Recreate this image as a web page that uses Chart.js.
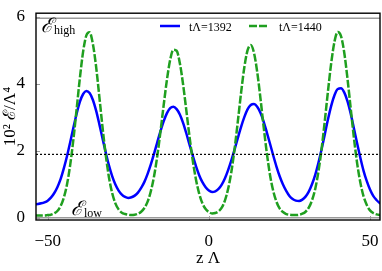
<!DOCTYPE html>
<html>
<head>
<meta charset="utf-8">
<script src="https://cdn.jsdelivr.net/npm/chart.js@4.4.1/dist/chart.umd.min.js"></script>
<style>
  html, body { margin: 0; padding: 0; background: #fff; }
  canvas { display: block; }
</style>
</head>
<body>
<canvas id="myChart" width="382" height="271"></canvas>
<script>
// z positions (in units of 1/Lambda)
const zGrid = [-54,-53,-52,-51,-50,-49,-48,-47,-46,-45,-44,-43,-42,-41,-40,-39,-38,-37,-36,-35,
  -34,-33,-32,-31,-30,-29,-28,-27,-26,-25,-24,-23,-22,-21,-20,-19,-18,-17,-16,-15,
  -14,-13,-12,-11,-10,-9,-8,-7,-6,-5,-4,-3,-2,-1,0,1,2,3,4,5,
  6,7,8,9,10,11,12,13,14,15,16,17,18,19,20,21,22,23,24,25,
  26,27,28,29,30,31,32,33,34,35,36,37,38,39,40,41,42,43,44,45,
  46,47,48,49,50,51,52,53,54]

// 10^2 E / Lambda^4 at t Lambda = 1392
const energy1392 = [0.40,0.41,0.43,0.46,0.51,0.60,0.73,0.91,1.15,1.47,1.84,2.26,2.70,3.11,3.46,3.69,3.78,3.72,3.52,3.20,
  2.80,2.37,1.95,1.56,1.24,0.99,0.81,0.69,0.62,0.59,0.61,0.66,0.75,0.89,1.07,1.31,1.59,1.91,2.25,2.58,
  2.88,3.12,3.27,3.31,3.24,3.08,2.83,2.52,2.18,1.85,1.54,1.27,1.06,0.91,0.81,0.77,0.79,0.86,0.99,1.18,
  1.43,1.72,2.04,2.38,2.71,3.00,3.23,3.36,3.39,3.31,3.13,2.87,2.54,2.20,1.85,1.52,1.23,0.99,0.80,0.65,
  0.56,0.51,0.50,0.54,0.63,0.78,1.00,1.28,1.64,2.05,2.50,2.95,3.35,3.66,3.84,3.86,3.74,3.48,3.11,2.67,
  2.22,1.79,1.40,1.09,0.84,0.65,0.53,0.44,0.39]

// 10^2 E / Lambda^4 at t Lambda = 1440
const energy1440 = [0.07,0.07,0.07,0.07,0.08,0.09,0.13,0.20,0.35,0.60,1.00,1.59,2.36,3.26,4.18,4.96,5.44,5.53,5.19,4.52,
  3.63,2.71,1.88,1.21,0.74,0.43,0.25,0.15,0.11,0.09,0.08,0.09,0.12,0.18,0.29,0.48,0.79,1.24,1.84,2.58,
  3.37,4.12,4.71,5.01,4.98,4.61,3.98,3.21,2.42,1.71,1.14,0.72,0.43,0.26,0.17,0.13,0.14,0.19,0.30,0.52,
  0.87,1.38,2.07,2.88,3.73,4.48,4.99,5.15,4.92,4.35,3.57,2.71,1.92,1.26,0.79,0.47,0.27,0.17,0.11,0.09,
  0.08,0.08,0.09,0.12,0.18,0.30,0.52,0.86,1.38,2.07,2.91,3.81,4.64,5.26,5.54,5.42,4.93,4.16,3.27,2.39,
  1.63,1.05,0.64,0.38,0.22,0.14,0.10,0.08,0.07]

// horizontal reference levels
const levelHigh = 5.95
const levelLow = 0
const levelMid = 1.89
const lineEnds = [-53.63, 53.1]

const xTicks = [-50, 0, 50]
const yTicks = [0, 2, 4, 6]
const seriesLabels = ['t\u039B=1392', 't\u039B=1440']

const serif = "'Liberation Serif', 'DejaVu Serif', serif"

function pairs(xs, ys) {
    return xs.map((x, i) => ({ x: x, y: ys[i] }))
}
function level(v) {
    return lineEnds.map(x => ({ x: x, y: v }))
}

// script E with a subscript right after it
function levelLabel(ctx, x, y, sub) {
    ctx.font = 'italic 20px ' + serif
    ctx.fillText('\u2130', x, y)
    const w = ctx.measureText('\u2130').width
    ctx.font = '12px ' + serif
    ctx.fillText(sub, x + w + 1, y + 2)
}

// frame, inward ticks, legend and level labels
const decorations = {
    id: 'decorations',
    afterDraw(chart) {
        const ctx = chart.ctx
        const a = chart.chartArea
        const xs = chart.scales.x, ys = chart.scales.y
        ctx.save()

        // tick marks pointing inwards
        ctx.strokeStyle = '#999'
        ctx.lineWidth = 1
        xTicks.forEach(v => {
            const px = Math.round(xs.getPixelForValue(v)) + 0.5
            ctx.beginPath(); ctx.moveTo(px, a.bottom); ctx.lineTo(px, a.bottom - 4); ctx.stroke()
        })
        yTicks.forEach(v => {
            const py = Math.round(ys.getPixelForValue(v)) + 0.5
            ctx.beginPath(); ctx.moveTo(a.left, py); ctx.lineTo(a.left + 4, py); ctx.stroke()
        })

        // frame
        ctx.strokeStyle = '#000'
        ctx.lineWidth = 1.4
        ctx.strokeRect(a.left, a.top, a.right - a.left, a.bottom - a.top)

        // legend
        ctx.lineWidth = 2.5
        ctx.strokeStyle = '#0000ff'
        ctx.beginPath(); ctx.moveTo(160, 26); ctx.lineTo(180, 26); ctx.stroke()
        ctx.strokeStyle = '#1f9f1f'
        ctx.setLineDash([8, 2])
        ctx.beginPath(); ctx.moveTo(249, 26); ctx.lineTo(268, 26); ctx.stroke()
        ctx.setLineDash([])
        ctx.fillStyle = '#000'
        ctx.font = '12px ' + serif
        ctx.textBaseline = 'alphabetic'
        ctx.textAlign = 'left'
        ctx.fillText(seriesLabels[0], 189, 31)
        ctx.fillText(seriesLabels[1], 279, 31)

        // level labels
        levelLabel(ctx, 41, 32, 'high')
        levelLabel(ctx, 71, 215, 'low')

        ctx.restore()
    }
}

new Chart(document.getElementById('myChart'), {
    type: 'line',
    data: {
        datasets: [
            {
                label: 'mid',
                data: level(levelMid),
                borderColor: '#000',
                borderWidth: 1.2,
                borderDash: [2, 2],
                pointRadius: 0
            },
            {
                label: seriesLabels[1],
                data: pairs(zGrid, energy1440),
                borderColor: '#1f9f1f',
                borderWidth: 2.5,
                borderDash: [8, 2],
                pointRadius: 0,
                cubicInterpolationMode: 'monotone'
            },
            {
                label: seriesLabels[0],
                data: pairs(zGrid, energy1392),
                borderColor: '#0000ff',
                borderWidth: 2.5,
                pointRadius: 0,
                cubicInterpolationMode: 'monotone'
            },
            {
                label: 'high',
                data: level(levelHigh),
                borderColor: '#9a9a9a',
                borderWidth: 1.6,
                pointRadius: 0
            },
            {
                label: 'low',
                data: level(levelLow),
                borderColor: '#9a9a9a',
                borderWidth: 1.6,
                pointRadius: 0
            }
        ]
    },
    options: {
        responsive: false,
        animation: false,
        devicePixelRatio: 1,
        layout: { padding: { top: 8, right: 2, left: 0, bottom: 0 } },
        plugins: {
            legend: { display: false },
            tooltip: { enabled: false }
        },
        scales: {
            x: {
                type: 'linear',
                min: -53.63,
                max: 53.1,
                grid: { display: false },
                border: { display: false },
                afterBuildTicks: s => { s.ticks = xTicks.map(v => ({ value: v })) },
                afterFit: s => { s.height = 51 },
                ticks: {
                    color: '#000',
                    padding: 3,
                    maxRotation: 0,
                    autoSkip: false,
                    font: { family: serif, size: 17 },
                    callback: v => v < 0 ? '\u2212' + Math.abs(v) : String(v)
                },
                title: {
                    display: true,
                    text: 'z \u039B',
                    color: '#000',
                    font: { family: serif, size: 17 },
                    padding: { top: 0, bottom: 2 }
                }
            },
            y: {
                min: -0.067,
                max: 6.1,
                grid: { display: false },
                border: { display: false },
                afterBuildTicks: s => { s.ticks = yTicks.map(v => ({ value: v })) },
                afterFit: s => { s.width = 36 },
                ticks: {
                    color: '#000',
                    padding: 3,
                    font: { family: serif, size: 17 }
                },
                title: {
                    display: true,
                    text: '10\u00B2 \u2130/\u039B\u2074',
                    color: '#000',
                    font: { family: serif, size: 17 },
                    padding: { top: 0, bottom: 0 }
                }
            }
        }
    },
    plugins: [decorations]
})
</script>
</body>
</html>
